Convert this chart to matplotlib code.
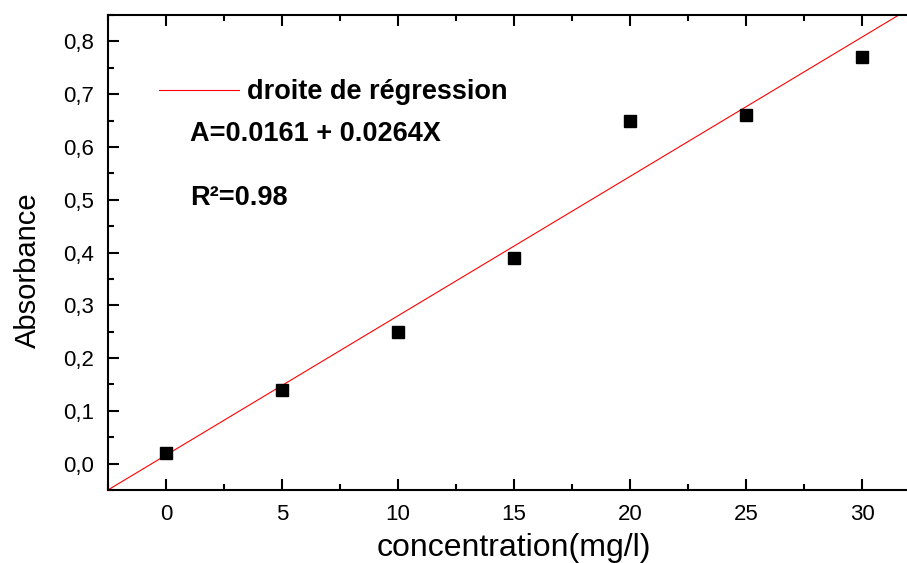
import numpy as np
import matplotlib
matplotlib.use("Agg")
import matplotlib.pyplot as plt
from matplotlib.ticker import MultipleLocator, FuncFormatter

# donnees
concentration = [0, 5, 10, 15, 20, 25, 30]
absorbance = [0.02, 0.14, 0.25, 0.39, 0.65, 0.66, 0.77]

# droite de regression affichee
intercept = 0.0161
slope = 0.0264
r2_text = "0.98"

plt.rcParams['font.family'] = ['Liberation Sans', 'DejaVu Sans']

def main():
    fig = plt.figure(figsize=(9.07, 5.63), dpi=100)
    ax = fig.add_axes([108/907, 1 - 490/563, (920 - 108)/907, (490 - 15)/563])

    xmin, xmax = -2.5, 32.5
    ymin, ymax = -0.05, 0.85

    xl = np.array([xmin, xmax])
    ax.plot(xl, intercept + slope*xl, color='red', lw=0.8, label='droite de régression')
    ax.plot(concentration, absorbance, 's', color='black', ms=8, mec='black')

    ax.set_xlim(xmin, xmax)
    ax.set_ylim(ymin, ymax)

    ax.xaxis.set_major_locator(MultipleLocator(5))
    ax.xaxis.set_minor_locator(MultipleLocator(2.5))
    ax.yaxis.set_major_locator(MultipleLocator(0.1))
    ax.yaxis.set_minor_locator(MultipleLocator(0.05))
    ax.yaxis.set_major_formatter(FuncFormatter(lambda v, p: f"{v:.1f}".replace('.', ',').replace('-0,0', '0,0')))

    for s in ax.spines.values():
        s.set_linewidth(1.5)
    ax.spines['right'].set_visible(False)

    ax.tick_params(which='major', direction='in', length=8, width=1.5, labelsize=16, pad=10)
    ax.tick_params(which='minor', direction='in', length=4, width=1.5)
    ax.tick_params(axis='x', which='both', top=True)
    ax.tick_params(axis='x', which='major', pad=10)

    ax.set_xlabel('concentration(mg/l)', fontsize=23, labelpad=6)
    ax.set_ylabel('Absorbance', fontsize=21)
    ax.yaxis.set_label_coords(-0.081, 0.463)

    ax.legend(loc='center left', bbox_to_anchor=(159/907, 1 - 92/563),
              bbox_transform=fig.transFigure, frameon=False, borderpad=0,
              borderaxespad=0, handlelength=2.95, handletextpad=0.3,
              prop={'size': 19.5, 'weight': 'bold'})

    fig.text(190/907, 1 - 134/563, 'A=0.0161 + 0.0264X', fontsize=19.5,
             fontweight='bold', va='center', ha='left')
    fig.text(190/907, 1 - 198/563, 'R²=' + r2_text, fontsize=19.5,
             fontweight='bold', va='center', ha='left')

    fig.savefig('out.png', dpi=100)

if __name__ == '__main__':
    main()
